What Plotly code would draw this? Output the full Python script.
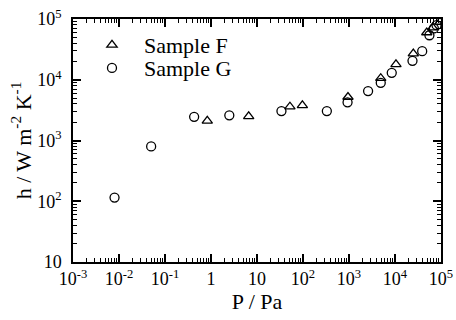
import plotly.graph_objects as go

# Sample G (circles)
g_p = [0.008, 0.05, 0.43, 2.5, 34, 330, 930, 2600, 4900, 8500, 24000, 39000, 56000, 70000, 80000]
g_h = [115, 800, 2450, 2600, 3050, 3050, 4250, 6500, 8900, 13000, 20500, 29500, 54000, 70000, 79000]

# Sample F (triangles)
f_p = [0.83, 6.6, 52, 97, 950, 4900, 10500, 25000, 49000, 66000, 95000]
f_h = [2100, 2500, 3600, 3800, 5200, 10600, 17900, 27000, 60000, 72000, 90000]

x_tickvals = [1e-3, 1e-2, 1e-1, 1, 10, 1e2, 1e3, 1e4, 1e5]
x_ticktext = ["10<sup>-3</sup>", "10<sup>-2</sup>", "10<sup>-1</sup>", "1", "10",
              "10<sup>2</sup>", "10<sup>3</sup>", "10<sup>4</sup>", "10<sup>5</sup>"]
y_tickvals = [10, 1e2, 1e3, 1e4, 1e5]
y_ticktext = ["10", "10<sup>2</sup>", "10<sup>3</sup>", "10<sup>4</sup>", "10<sup>5</sup>"]

FONT = "Times New Roman, Liberation Serif, serif"

x_minor = [m * 10 ** e for e in range(-3, 5) for m in range(2, 10)]
y_minor = [m * 10 ** e for e in range(1, 5) for m in range(2, 10)]

fig = go.Figure()
fig.add_trace(go.Scatter(
    x=f_p, y=f_h, mode="markers", name="Sample F", legend="legend",
    marker=dict(symbol="triangle-up-open", size=9, color="black", line=dict(width=1.3, color="black")),
))
fig.add_trace(go.Scatter(
    x=g_p, y=g_h, mode="markers", name="Sample G", legend="legend2",
    marker=dict(symbol="circle-open", size=9, color="black", line=dict(width=1.3, color="black")),
))

axis_common = dict(
    type="log", showgrid=False, zeroline=False, automargin=False,
    showline=True, linecolor="black", linewidth=1.5,
    mirror="ticks", ticks="inside", ticklen=8, tickwidth=1.5, tickcolor="black",
    tickfont=dict(family=FONT, size=18, color="black"),
)

fig.update_xaxes(
    **axis_common, range=[-3, 5], tickmode="array",
    tickvals=x_tickvals, ticktext=x_ticktext,
    minor=dict(tickmode="array", tickvals=x_minor, ticks="inside", ticklen=4,
               tickwidth=1, tickcolor="black", showgrid=False),
    title=dict(text="P / Pa", font=dict(family=FONT, size=22, color="black"), standoff=3),
)
fig.update_yaxes(
    **axis_common, range=[1, 5], tickmode="array",
    tickvals=y_tickvals, ticktext=y_ticktext, ticklabelstandoff=6,
    minor=dict(tickmode="array", tickvals=y_minor, ticks="inside", ticklen=4,
               tickwidth=1, tickcolor="black", showgrid=False),
    title=dict(text="h / W m<sup>-2</sup> K<sup>-1</sup>", font=dict(family=FONT, size=22, color="black"), standoff=0),
)

leg_common = dict(xanchor="left", yanchor="middle",
                  font=dict(family=FONT, size=22, color="black"),
                  bgcolor="rgba(0,0,0,0)", itemwidth=54)

fig.update_layout(
    width=456, height=320,
    margin=dict(l=73, r=15, t=19, b=58, autoexpand=False),
    paper_bgcolor="white", plot_bgcolor="white",
    font=dict(family=FONT, color="black"),
    showlegend=True,
    legend=dict(x=0.019, y=0.893, **leg_common),
    legend2=dict(x=0.019, y=0.798, **leg_common),
)

fig.write_html("out.html", config={"displayModeBar": False},
               post_script="document.body.style.margin='0';")
